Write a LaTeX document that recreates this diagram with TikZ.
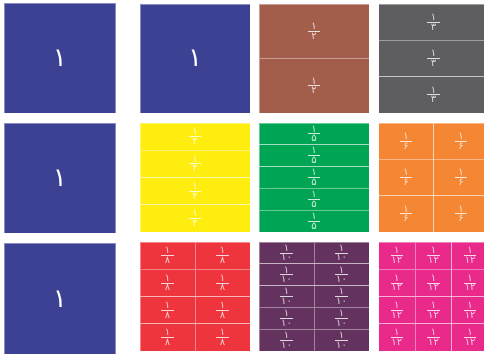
\documentclass[tikz,border=0pt]{standalone}
\usepackage{fontspec}
\newfontfamily\pf[Script=Arabic]{DejaVu Sans}
\definecolor{cblue}{HTML}{3D4193}
\definecolor{cbrown}{HTML}{A35D4B}
\definecolor{cgray}{HTML}{5E5E60}
\definecolor{cyellow}{HTML}{FFED0F}
\definecolor{cgreen}{HTML}{00A554}
\definecolor{corange}{HTML}{F58634}
\definecolor{cred}{HTML}{EE343C}
\definecolor{cpurple}{HTML}{64325F}
\definecolor{cpink}{HTML}{E92A8B}
\newcommand\fr[2]{\pf\fontsize{10}{10}\selectfont\vbox{\offinterlineskip
  \hbox to 12.5pt{\hss #1\hss}\kern1.3pt\hrule height .7pt\kern1.3pt\hbox to 12.5pt{\hss #2\hss}}}
\tikzset{
  piece/.style={draw=white, draw opacity=.4, line width=.8pt, inner sep=0pt, outer sep=0pt,
    anchor=north west, text=white, text opacity=.8},
  whole/.style={piece, fill=cblue, text opacity=1, font=\pf\fontsize{26}{26}\selectfont}
}
% x, y, cols, rows, colour, denominator, name
\newcommand\tiles[7]{%
  \foreach \i in {1,...,#3}{\foreach \j in {1,...,#4}{
    \node[piece, fill=#5, minimum width=110pt/#3, minimum height=109pt/#4]
      (#7-\i-\j) at ({#1+(\i-1)*110/#3},{#2+(\j-1)*109/#4}) {\fr{۱}{#6}};
  }}}
\begin{document}
\begin{tikzpicture}[x=1pt,y=-1pt]
\useasboundingbox (0,0) rectangle (484,353);
\fill[white] (0,0) rectangle (484,353);
\clip (0,0) rectangle (484,353);
% column of wholes
\node[whole, minimum width=111.5pt, minimum height=110pt] (w1) at (4,3) {۱};
\node[whole, minimum width=111.5pt, minimum height=110pt] (w2) at (4,123) {۱};
\node[whole, minimum width=111.5pt, minimum height=112pt] (w3) at (4,243) {۱};
% row 1
\node[whole, minimum width=110pt, minimum height=109pt] (one) at (140,4) {۱};
\tiles{259}{4}{1}{2}{cbrown}{۲}{half}
\tiles{378.5}{4}{1}{3}{cgray}{۳}{third}
% row 2
\tiles{140}{123}{1}{4}{cyellow}{۴}{quarter}
\tiles{259}{123}{1}{5}{cgreen}{۵}{fifth}
\tiles{378.5}{123}{2}{3}{corange}{۶}{sixth}
% row 3
\tiles{140}{242}{2}{4}{cred}{۸}{eighth}
\tiles{259}{242}{2}{5}{cpurple}{۱۰}{tenth}
\tiles{378.5}{242}{3}{4}{cpink}{۱۲}{twelfth}
\end{tikzpicture}
\end{document}
